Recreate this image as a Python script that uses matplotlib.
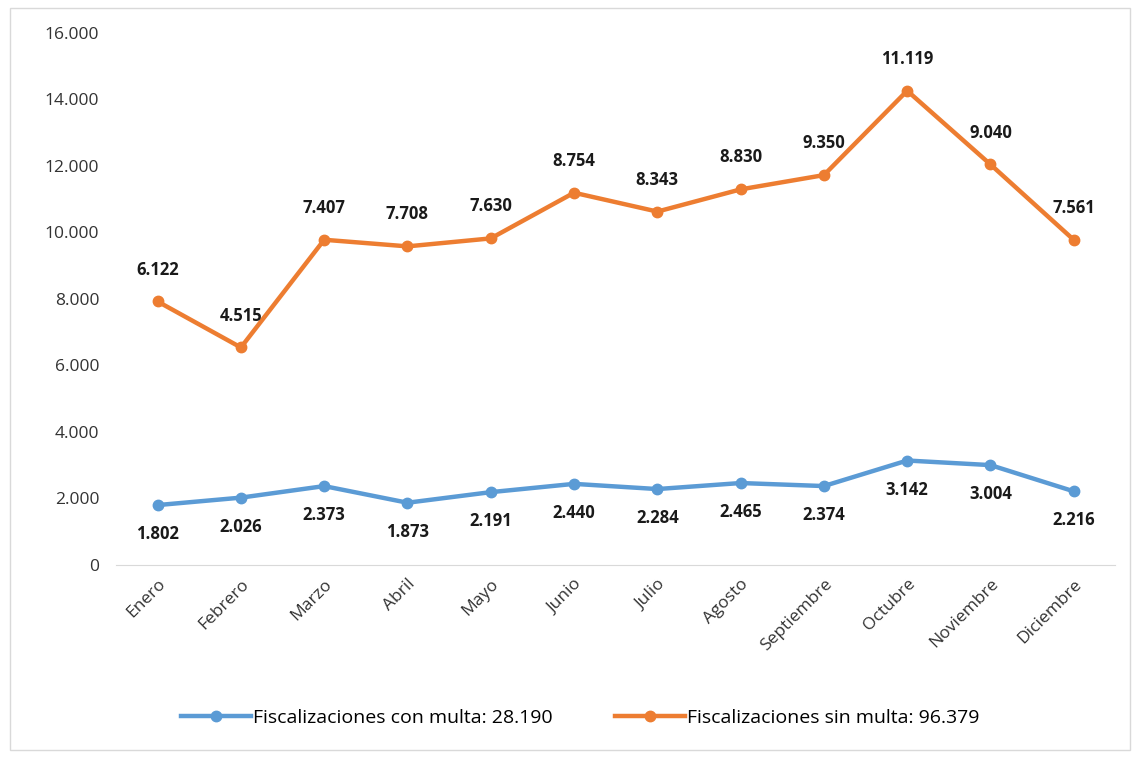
import matplotlib.pyplot as plt
from matplotlib.patches import Rectangle
from matplotlib.ticker import FuncFormatter

meses = ['Enero', 'Febrero', 'Marzo', 'Abril', 'Mayo', 'Junio', 'Julio',
         'Agosto', 'Septiembre', 'Octubre', 'Noviembre', 'Diciembre']
con_multa = [1802, 2026, 2373, 1873, 2191, 2440, 2284, 2465, 2374, 3142, 3004, 2216]
sin_multa = [6122, 4515, 7407, 7708, 7630, 8754, 8343, 8830, 9350, 11119, 9040, 7561]

azul = '#5B9BD5'
naranja = '#ED7D31'

plt.rcParams['font.family'] = ['Open Sans', 'DejaVu Sans']


def miles(v):
    return f'{int(v):,}'.replace(',', '.')


fig = plt.figure(figsize=(11.37, 7.58), dpi=100)
fig.patches.append(Rectangle((0.009, 0.01), 0.985, 0.98, transform=fig.transFigure,
                             fill=False, edgecolor='#d9d9d9', linewidth=1))
ax = fig.add_axes([0.102, 0.2546, 0.879, 0.702])

x = list(range(len(meses)))
# linea apilada: la naranja va sobre la azul
apilado = [a + b for a, b in zip(con_multa, sin_multa)]

ax.plot(x, con_multa, color=azul, lw=3.2, marker='o', ms=7.5,
        label='Fiscalizaciones con multa: ' + miles(sum(con_multa)))
ax.plot(x, apilado, color=naranja, lw=3.2, marker='o', ms=7.5,
        label='Fiscalizaciones sin multa: ' + miles(sum(sin_multa)))

for i in x:
    ax.annotate(miles(con_multa[i]), (i, con_multa[i]), xytext=(0, -21),
                textcoords='offset points', ha='center', va='center',
                fontsize=12, fontweight='bold', color='#1a1a1a')
    ax.annotate(miles(sin_multa[i]), (i, apilado[i]), xytext=(0, 23),
                textcoords='offset points', ha='center', va='center',
                fontsize=12, fontweight='bold', color='#1a1a1a')

ax.set_xlim(-0.5, len(meses) - 0.5)
ax.set_ylim(0, 16000)
ax.set_yticks(range(0, 16001, 2000))
ax.yaxis.set_major_formatter(FuncFormatter(lambda v, p: miles(v)))
ax.set_xticks(x)
ax.set_xticklabels(meses, rotation=45, ha='right', rotation_mode='anchor')
ax.tick_params(axis='both', length=0, labelsize=12.5, colors='#333333')
ax.tick_params(axis='x', pad=8)
ax.tick_params(axis='y', pad=12)

for s in ['top', 'right', 'left']:
    ax.spines[s].set_visible(False)
ax.spines['bottom'].set_color('#d9d9d9')

fig.legend(loc='center', bbox_to_anchor=(0.51, 0.053), ncol=2, frameon=False,
           fontsize=14, handlelength=3.6, handletextpad=0.1, columnspacing=3.2)

plt.savefig('out.png')
